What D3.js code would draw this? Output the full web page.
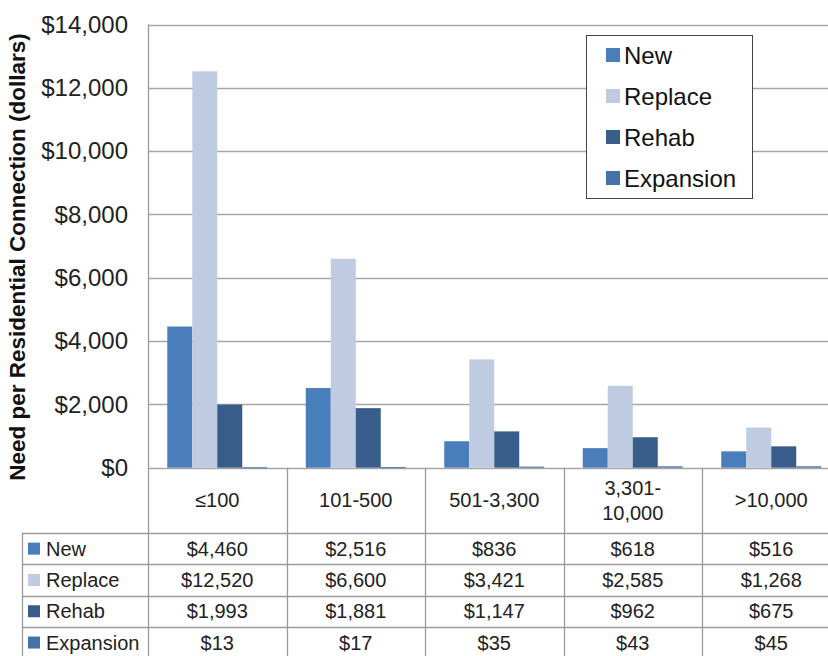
<!DOCTYPE html>
<html>
<head>
<meta charset="utf-8">
<script src="https://cdn.jsdelivr.net/npm/d3@7"></script>
<style>
  body { margin: 0; background: #fff; }
  svg { display: block; font-family: "Liberation Sans", Arial, sans-serif; }
</style>
</head>
<body>
<script>
var chartWidth = 828;
var chartHeight = 656;

var categories = ["\u2264100", "101-500", "501-3,300", "3,301-\n10,000", ">10,000"];
var seriesNames = ["New", "Replace", "Rehab", "Expansion"];
var newValues = [4460, 2516, 836, 618, 516];
var replaceValues = [12520, 6600, 3421, 2585, 1268];
var rehabValues = [1993, 1881, 1147, 962, 675];
var expansionValues = [13, 17, 35, 43, 45];
var yTicks = [0, 2000, 4000, 6000, 8000, 10000, 12000, 14000];

var colorMap = {
    "New": "#4a7ebb",
    "Replace": "#bfcbe1",
    "Rehab": "#385d8a",
    "Expansion": "#4572a7"
};

var seriesValues = [newValues, replaceValues, rehabValues, expansionValues];

var plotLeft = 148, plotRight = 840.5, plotTop = 24.5, plotBottom = 467.7;
var headerBottom = 533, rowHeight = 31.3, tableLeft = 22;

var canvas = d3.select("body").append("svg")
    .attr("width", chartWidth)
    .attr("height", chartHeight);

var xScale = d3.scaleBand().domain(categories).range([plotLeft, plotRight]);
var innerScale = d3.scaleBand().domain(seriesNames)
    .range([0, xScale.bandwidth()]).paddingInner(0).paddingOuter(0.77);
var yScale = d3.scaleLinear().domain([0, 14000]).range([plotBottom, plotTop]);

// gridlines
canvas.selectAll(".grid")
    .data(yTicks)
    .enter().append("line")
    .attr("x1", plotLeft).attr("x2", plotRight)
    .attr("y1", function(d) { return Math.round(yScale(d)) + 0.5; })
    .attr("y2", function(d) { return Math.round(yScale(d)) + 0.5; })
    .attr("stroke", "#a6a6a6")
    .attr("stroke-width", 1.3);

// bars
var groups = canvas.selectAll(".group")
    .data(categories)
    .enter().append("g")
    .attr("transform", function(d) { return "translate(" + xScale(d) + ",0)"; });

groups.selectAll("rect")
    .data(function(d, i) {
        return seriesNames.map(function(s, j) {
            return { series: s, value: seriesValues[j][i] };
        });
    })
    .enter().append("rect")
    .attr("x", function(d) { return innerScale(d.series); })
    .attr("width", innerScale.bandwidth())
    .attr("y", function(d) { return yScale(d.value); })
    .attr("height", function(d) { return Math.max(1, plotBottom - yScale(d.value)); })
    .attr("fill", function(d) { return colorMap[d.series]; });

// y axis
var yAxis = d3.axisLeft(yScale)
    .tickValues(yTicks)
    .tickSize(0)
    .tickPadding(20)
    .tickFormat(function(d) { return "$" + d3.format(",")(d); });

var yAxisG = canvas.append("g")
    .attr("transform", "translate(" + plotLeft + ",0)")
    .call(yAxis);
yAxisG.select(".domain").remove();
yAxisG.selectAll("text")
    .attr("font-size", 24)
    .attr("font-family", "Liberation Sans, Arial, sans-serif")
    .attr("fill", "#222");

canvas.append("text")
    .attr("transform", "translate(25," + 257 + ") rotate(-90)")
    .attr("text-anchor", "middle")
    .attr("font-size", 22.5)
    .attr("font-weight", "bold")
    .attr("fill", "#111")
    .text("Need per Residential Connection (dollars)");

// table lines
var gridColor = "#9a9a9a";
canvas.append("line")
    .attr("x1", plotLeft + 0.5).attr("x2", plotLeft + 0.5)
    .attr("y1", plotTop).attr("y2", chartHeight)
    .attr("stroke", gridColor).attr("stroke-width", 1.3);

canvas.selectAll(".colLine")
    .data(categories.slice(1))
    .enter().append("line")
    .attr("x1", function(d) { return Math.round(xScale(d)) + 0.5; })
    .attr("x2", function(d) { return Math.round(xScale(d)) + 0.5; })
    .attr("y1", plotBottom).attr("y2", chartHeight)
    .attr("stroke", gridColor).attr("stroke-width", 1.3);

var rowTops = seriesNames.map(function(s, i) { return headerBottom + i * rowHeight; });
canvas.selectAll(".rowLine")
    .data(rowTops.concat([headerBottom + 4 * rowHeight]))
    .enter().append("line")
    .attr("x1", tableLeft).attr("x2", plotRight)
    .attr("y1", function(d) { return Math.round(d) + 0.5; })
    .attr("y2", function(d) { return Math.round(d) + 0.5; })
    .attr("stroke", gridColor).attr("stroke-width", 1.3);

canvas.append("line")
    .attr("x1", tableLeft + 0.5).attr("x2", tableLeft + 0.5)
    .attr("y1", headerBottom).attr("y2", chartHeight)
    .attr("stroke", gridColor).attr("stroke-width", 1.3);

// header labels
var headerMid = (plotBottom + headerBottom) / 2;
categories.forEach(function(c) {
    var lines = c.split("\n");
    var t = canvas.append("text")
        .attr("text-anchor", "middle")
        .attr("font-size", 20)
        .attr("fill", "#222");
    lines.forEach(function(line, k) {
        t.append("tspan")
            .attr("x", xScale(c) + xScale.bandwidth() / 2)
            .attr("y", headerMid + (k - (lines.length - 1) / 2) * 25)
            .attr("dy", "0.35em")
            .text(line);
    });
});

// table rows
seriesNames.forEach(function(s, i) {
    var cy = headerBottom + (i + 0.5) * rowHeight;
    canvas.append("rect")
        .attr("x", 28).attr("y", cy - 6)
        .attr("width", 12).attr("height", 12)
        .attr("fill", colorMap[s]);
    canvas.append("text")
        .attr("x", 46).attr("y", cy).attr("dy", "0.35em")
        .attr("font-size", 20).attr("fill", "#222")
        .text(s);
    categories.forEach(function(c, j) {
        canvas.append("text")
            .attr("x", xScale(c) + xScale.bandwidth() / 2)
            .attr("y", cy).attr("dy", "0.35em")
            .attr("text-anchor", "middle")
            .attr("font-size", 20).attr("fill", "#222")
            .text("$" + d3.format(",")(seriesValues[i][j]));
    });
});

// legend
var legend = canvas.append("g").attr("transform", "translate(586,35)");
legend.append("rect")
    .attr("x", 0.5).attr("y", 0.5)
    .attr("width", 166).attr("height", 163)
    .attr("fill", "#fff")
    .attr("stroke", "#444").attr("stroke-width", 1);

var legendItems = legend.selectAll(".legendItem")
    .data(seriesNames)
    .enter().append("g")
    .attr("transform", function(d, i) { return "translate(0," + (20 + i * 41) + ")"; });

legendItems.append("rect")
    .attr("x", 20).attr("y", -7)
    .attr("width", 14).attr("height", 14)
    .attr("fill", function(d) { return colorMap[d]; });

legendItems.append("text")
    .attr("x", 38).attr("dy", "0.36em")
    .attr("font-size", 24).attr("fill", "#111")
    .text(function(d) { return d; });
</script>
</body>
</html>
